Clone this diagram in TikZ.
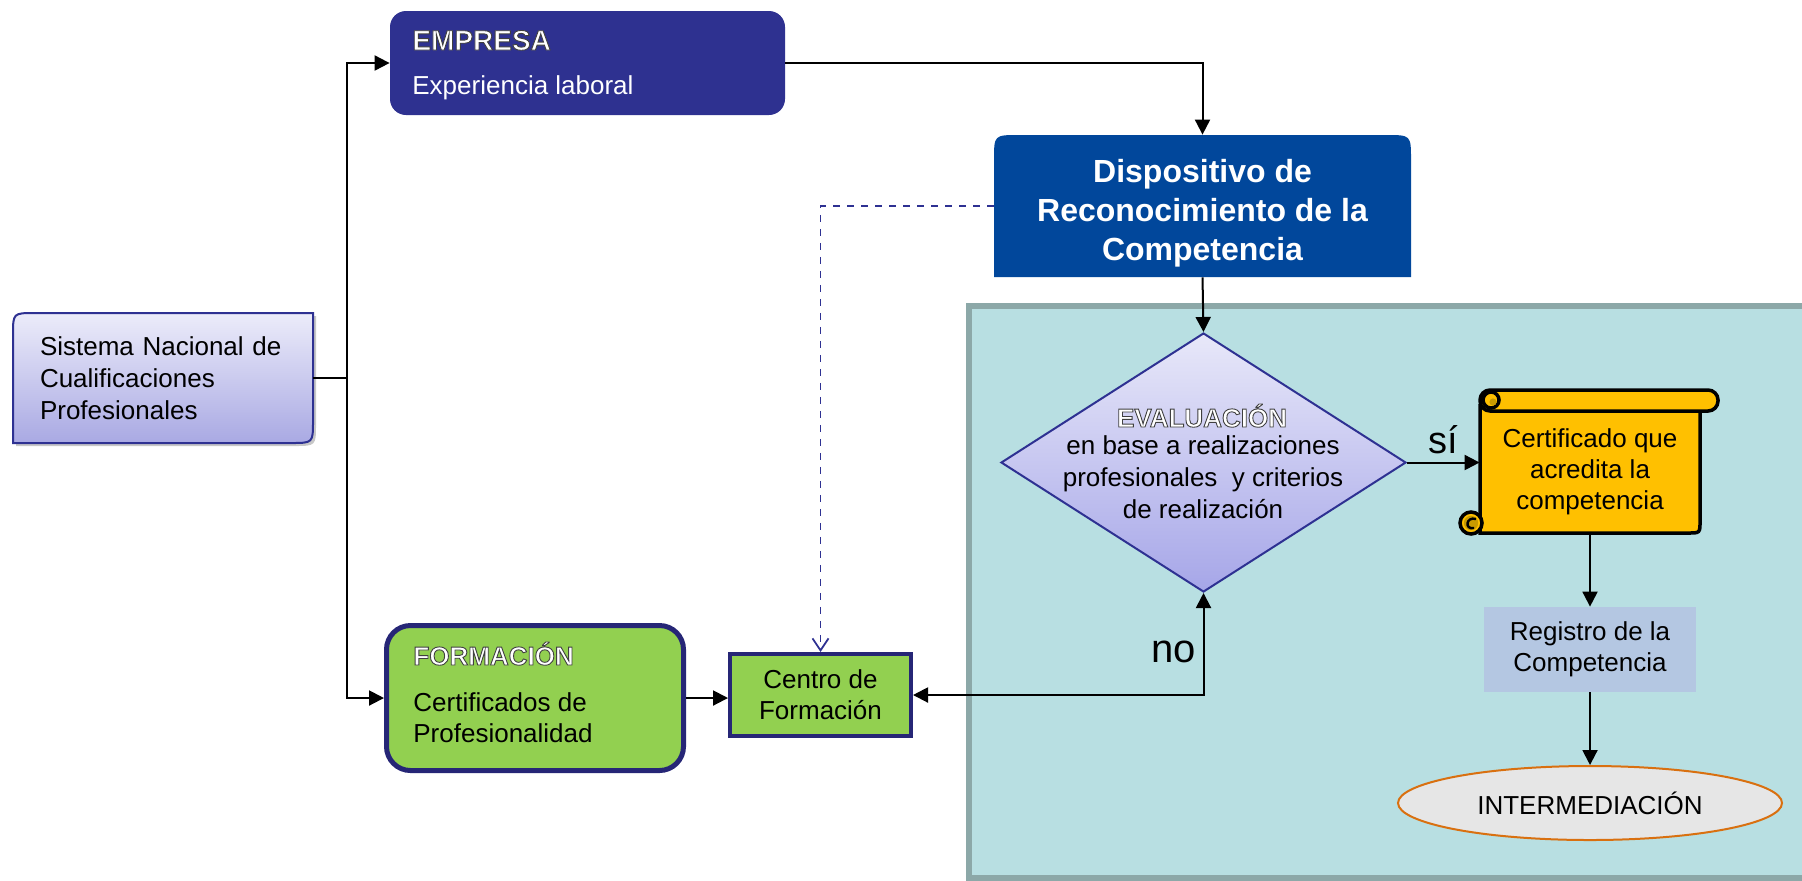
\documentclass[tikz,border=0pt]{standalone}
\usepackage{fontspec}
\setmainfont{Liberation Sans}
\usetikzlibrary{arrows.meta,shapes.geometric,calc}

\definecolor{panelfill}{HTML}{B8DFE2}
\definecolor{panelline}{HTML}{8CA8A8}
\definecolor{sistop}{HTML}{ECECFA}
\definecolor{sisbot}{HTML}{A9A9E3}
\definecolor{navyline}{HTML}{2E3192}
\definecolor{empfill}{HTML}{2E3190}
\definecolor{dispfill}{HTML}{01479B}
\definecolor{evatop}{HTML}{E8E8F9}
\definecolor{evabot}{HTML}{A6A6E8}
\definecolor{scrollfill}{HTML}{FFC000}
\definecolor{curlfill}{HTML}{C99A00}
\definecolor{regfill}{HTML}{B4C7E2}
\definecolor{interfill}{HTML}{E6E6E6}
\definecolor{interline}{HTML}{D97010}
\definecolor{formfill}{HTML}{92D050}
\definecolor{formline}{HTML}{262676}

\newcommand{\embtext}[1]{\special{pdf:literal direct 2 Tr 0.45 w 0.25 G}#1\special{pdf:literal direct 0 Tr}}

\tikzset{
  panel/.style={fill=panelfill, draw=panelline, line width=3pt},
  sisshape/.style={draw=navyline, line width=1pt, top color=sistop, bottom color=sisbot},
  sisnode/.style={text width=123pt, inner xsep=13.5pt, inner ysep=0pt, minimum height=65pt, align=left, font=\fontsize{13pt}{16pt}\selectfont},
  empbox/.style={rectangle, rounded corners=8pt, fill=empfill, minimum width=197.5pt, minimum height=52pt, inner sep=0pt},
  titletext/.style={text=white, inner sep=0pt},
  bodytext/.style={inner sep=0pt, font=\fontsize{13pt}{16pt}\selectfont},
  dispnode/.style={minimum width=208.5pt, minimum height=71pt, inner sep=0pt},
  disptext/.style={inner sep=0pt, text=white, align=center, font=\bfseries\fontsize{16pt}{19.5pt}\selectfont},
  evanode/.style={diamond, minimum width=202.5pt, minimum height=129.5pt, inner sep=0pt, draw=navyline, line width=1pt, top color=evatop, bottom color=evabot},
  evatext/.style={inner sep=0pt, align=center, font=\fontsize{13pt}{16pt}\selectfont},
  scrollst/.style={fill=scrollfill, draw=black, line width=1.75pt},
  certnode/.style={minimum width=110pt, minimum height=61pt, inner sep=0pt, align=center, font=\fontsize{13pt}{15.5pt}\selectfont},
  regnode/.style={fill=regfill, minimum width=106pt, minimum height=42.5pt, inner sep=0pt, align=center, font=\fontsize{13pt}{15.5pt}\selectfont},
  internode/.style={ellipse, fill=interfill, draw=interline, line width=1pt, minimum width=192pt, minimum height=37pt, inner sep=0pt, font=\fontsize{13pt}{16pt}\selectfont},
  formbox/.style={rectangle, rounded corners=12pt, fill=formfill, draw=formline, line width=2.5pt, minimum width=148.5pt, minimum height=72.5pt, inner sep=0pt},
  centronode/.style={rectangle, fill=formfill, draw=formline, line width=2pt, minimum width=90.5pt, minimum height=41pt, inner sep=0pt, align=center, font=\fontsize{13pt}{15.5pt}\selectfont},
  conn/.style={draw=black, line width=1pt},
  arr/.style={conn, -{Triangle[length=7.5pt,width=7.5pt]}},
  arrboth/.style={conn, {Triangle[length=7.5pt,width=7.5pt]}-{Triangle[length=7.5pt,width=7.5pt]}},
  dashconn/.style={draw=navyline, line width=0.9pt, dash pattern=on 3.5pt off 3.5pt, -{Straight Barb[length=6pt,width=8pt]}},
  lbl/.style={font=\fontsize{20pt}{24pt}\selectfont}
}

\begin{document}
\begin{tikzpicture}[x=0.5pt, y=-0.5pt]
\useasboundingbox (0,0) rectangle (1802,880);

% panel
\path[panel] (969,306) rectangle (1815,878);

% Sistema shape with shadow
\fill[black, opacity=0.22] ([xshift=1.5pt,yshift=-1.5pt]13,443) -- ([xshift=1.5pt,yshift=-1.5pt]13,335) .. controls ([xshift=1.5pt,yshift=-1.5pt]13,313) .. ([xshift=1.5pt,yshift=-1.5pt]35,313) -- ([xshift=1.5pt,yshift=-1.5pt]313,313) -- ([xshift=1.5pt,yshift=-1.5pt]313,421) .. controls ([xshift=1.5pt,yshift=-1.5pt]313,443) .. ([xshift=1.5pt,yshift=-1.5pt]291,443) -- cycle;
\path[sisshape] (13,443) -- (13,335) .. controls (13,313) .. (35,313) -- (313,313) -- (313,421) .. controls (313,443) .. (291,443) -- cycle;

% Dispositivo shape
\fill[dispfill] (994,277) -- (994,160) .. controls (994,135) .. (1019,135) -- (1386,135) .. controls (1411,135) .. (1411,160) -- (1411,277) -- cycle;

% Scroll shape
\path[scrollst] (1480,404) -- (1480,533) -- (1688,533) .. controls (1700,533) .. (1700,521) -- (1700,404);
\path[scrollst, rounded corners=5pt] (1480,390) rectangle (1718,411);
\path[scrollst] (1491,400) circle (4pt);
\fill[curlfill] (1493,402) circle (1.8pt);
\path[scrollst] (1471,523) circle (5.5pt);
\fill[curlfill] (1471,523) circle (3.6pt);
\draw[black, line width=1.2pt] (1476,519) .. controls (1466,516) and (1464,530) .. (1474,528);

% nodes
\node[sisnode] (sis) at (163,378) {Sistema Nacional de\\Cualificaciones\\Profesionales};

\node[empbox] (emp) at (587.5,63) {};
\node[titletext, anchor=base west, font=\bfseries\fontsize{14pt}{16pt}\selectfont] (empT) at (412,50) {\embtext{EMPRESA}};
\node[bodytext, text=white, anchor=base west] (empS) at (412,94) {Experiencia laboral};

\node[dispnode] (disp) at (1202.5,206) {};
\node[disptext] (dispT) at (1202.5,213) {Dispositivo de\\Reconocimiento de la\\Competencia};

\node[evanode] (eva) at (1203.5,462.5) {};
\node[titletext, anchor=base, font=\bfseries\fontsize{13pt}{16pt}\selectfont] (evaT) at (1202,427) {\embtext{EVALUACIÓN}};
\node[evatext] (evaS) at (1203,477) {en base a realizaciones\\profesionales\ \ y criterios\\de realización};

\node[certnode] (cert) at (1590,472) {Certificado que\\acredita la\\competencia};
\node[regnode] (reg) at (1590,649.5) {Registro de la\\Competencia};
\node[internode] (inter) at (1590,803) {INTERMEDIACIÓN};

\node[formbox] (form) at (535,698) {};
\node[titletext, anchor=base west, font=\bfseries\fontsize{13pt}{15pt}\selectfont] (formT) at (413,665) {\embtext{FORMACIÓN}};
\node[bodytext, anchor=west, align=left, font=\fontsize{13pt}{15.5pt}\selectfont] (formS) at (413,718) {Certificados de\\Profesionalidad};

\node[centronode] (centro) at (820.5,695) {Centro de\\Formación};

% connectors
\coordinate (j) at (347,378);
\draw[conn] (sis.east) -- (j);
\draw[arr] (j) |- (emp.west);
\draw[arr] (j) |- (form.west);
\draw[arr] (emp.east) -| (disp.north);
\draw[dashconn] (disp.west) -| (centro.north);
\draw[arr] (form.east) -- (form.east -| centro.west);
\draw[arr] (disp.south) -- (eva.north);
\draw[arrboth] (eva.south) |- (centro.east) node[lbl, pos=0.29, left] (no) {no};
\draw[arr] (eva.east) -- (eva.east -| cert.west) node[lbl, midway, above, inner sep=4pt, font=\fontsize{19pt}{22pt}\selectfont] (si) {sí};
\draw[arr] (cert.south) -- (reg.north);
\draw[arr] (reg.south) -- (inter.north);
\end{tikzpicture}
\end{document}
